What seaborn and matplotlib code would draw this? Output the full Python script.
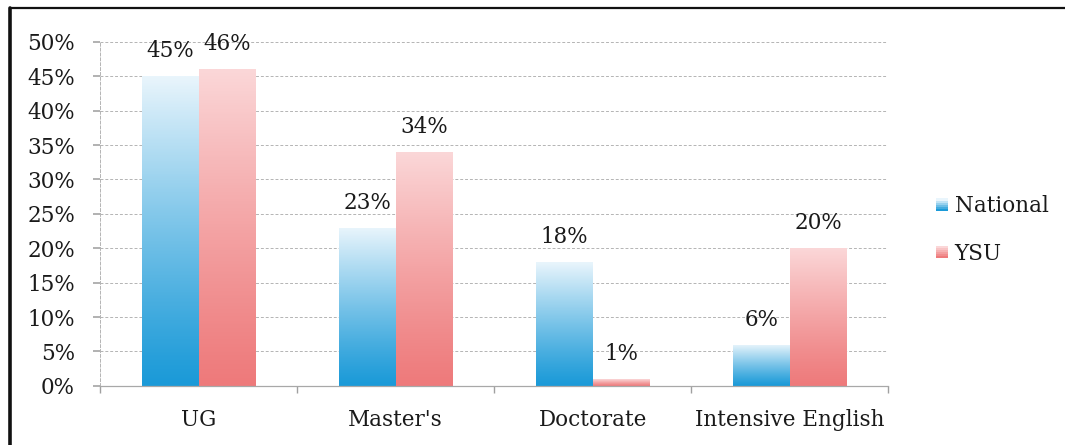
import numpy as np
import pandas as pd
import matplotlib
matplotlib.use("Agg")
import matplotlib.pyplot as plt
import matplotlib.colors as mcolors
from matplotlib.lines import Line2D
from matplotlib.patches import Rectangle
from matplotlib.legend_handler import HandlerBase
import seaborn as sns

# Share of students by program level
levels = ["UG", "Master's", "Doctorate", "Intensive English"]
national = [0.45, 0.23, 0.18, 0.06]
ysu = [0.46, 0.34, 0.01, 0.20]
groups = ["National", "YSU"]
yticks = [0.0, 0.05, 0.10, 0.15, 0.20, 0.25, 0.30, 0.35, 0.40, 0.45, 0.50]

# bottom -> top gradient colours for each series
gradients = {
    "National": ("#1b9ad8", "#e9f5fc"),
    "YSU": ("#ee7a7b", "#fbd7d8"),
}

df = pd.DataFrame({
    "level": levels * 2,
    "group": [groups[0]] * len(levels) + [groups[1]] * len(levels),
    "share": national + ysu,
})

sns.set_theme(style="white")
plt.rcParams["font.family"] = ["DejaVu Serif"]
FS = 15.5
TXT = "#1a1a1a"

fig = plt.figure(figsize=(10.65, 4.45), dpi=100)
ax = fig.add_axes([0.094, 0.133, 0.74, 0.773])

sns.barplot(data=df, x="level", y="share", hue="group", order=levels,
            hue_order=groups, width=0.575, palette=["#1b9ad8", "#ee7a7b"],
            legend=False, ax=ax, saturation=1)


def gradient_fill(patch, c0, c1, ax):
    x0, y0 = patch.get_x(), patch.get_y()
    w, h = patch.get_width(), patch.get_height()
    cmap = mcolors.LinearSegmentedColormap.from_list("g", [c0, c1])
    grad = np.linspace(0, 1, 256).reshape(-1, 1) ** 1.15
    im = ax.imshow(grad, cmap=cmap, origin="lower", aspect="auto",
                   extent=[x0, x0 + w, y0, y0 + h], zorder=2,
                   interpolation="bilinear", vmin=0, vmax=1)
    im.set_clip_path(patch)
    patch.set_facecolor("none")
    patch.set_edgecolor("none")


for cont, g in zip(ax.containers, groups):
    c0, c1 = gradients[g]
    for bar in cont:
        gradient_fill(bar, c0, c1, ax)
    ax.bar_label(cont, labels=[f"{v * 100:.0f}%" for v in cont.datavalues],
                 padding=10, fontsize=FS, color=TXT)

ax.set_xlim(-0.5, len(levels) - 0.5)
ax.set_ylim(0, 0.5)
ax.set_yticks(yticks)
ax.set_yticklabels([f"{v * 100:.0f}%" for v in yticks])
ax.set_xlabel("")
ax.set_ylabel("")
ax.grid(axis="y", color="#b4b4b4", linestyle=(0, (3, 2)), linewidth=0.7)
ax.set_axisbelow(True)
ax.set_xticks(np.arange(len(levels)))
ax.set_xticklabels(levels)
ax.set_xticks(np.arange(len(levels) + 1) - 0.5, minor=True)
ax.tick_params(axis="x", which="major", length=0, pad=17, labelsize=FS,
               labelcolor=TXT)
ax.tick_params(axis="x", which="minor", length=5, color="#a0a0a0",
               direction="out", bottom=True)
ax.tick_params(axis="y", length=5, color="#a8a8a8", direction="out",
               left=True, labelsize=FS, labelcolor=TXT, pad=13)
for s in ["top", "right"]:
    ax.spines[s].set_visible(False)
ax.spines["left"].set_color("#b4b4b4")
ax.spines["left"].set_linestyle((0, (3, 2)))
ax.spines["left"].set_linewidth(0.7)
ax.spines["bottom"].set_color("#a8a8a8")
ax.spines["bottom"].set_linewidth(0.9)


class GradientHandler(HandlerBase):
    def __init__(self, c0, c1):
        super().__init__()
        self.c0, self.c1 = c0, c1

    def create_artists(self, legend, orig_handle, xdescent, ydescent,
                       width, height, fontsize, trans):
        cmap = mcolors.LinearSegmentedColormap.from_list("g", [self.c0, self.c1])
        n = 6
        size = height * 0.8
        x = -xdescent + width - size
        y = -ydescent + (height - size) / 2
        arts = []
        for i in range(n):
            r = Rectangle((x, y + size * i / n), size, size / n + 0.2,
                          facecolor=cmap(i / (n - 1)), edgecolor="none",
                          transform=trans)
            arts.append(r)
        return arts


handles = [Rectangle((0, 0), 1, 1) for _ in groups]
handler_map = {h: GradientHandler(*gradients[g]) for h, g in zip(handles, groups)}
fig.legend(handles, groups, handler_map=handler_map, loc="center left",
           bbox_to_anchor=(0.86, 0.483), frameon=False, fontsize=FS,
           labelspacing=1.2, handlelength=0.6, handletextpad=0.3,
           labelcolor=TXT)

# page frame lines
fig.add_artist(Line2D([0.009, 1.0], [0.981, 0.981], color="#111111",
                      linewidth=1.6, transform=fig.transFigure))
fig.add_artist(Line2D([0.009, 0.009], [0.0, 0.981], color="#111111",
                      linewidth=2.6, transform=fig.transFigure))

fig.savefig("out.png", dpi=100, facecolor="white")
